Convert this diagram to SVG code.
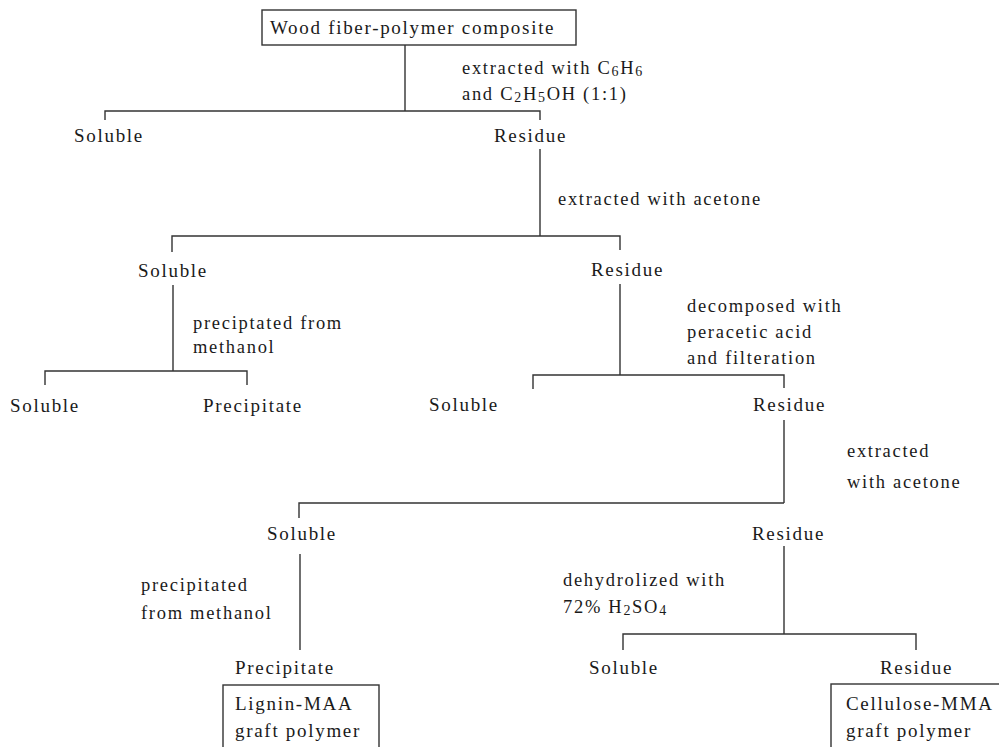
<svg xmlns="http://www.w3.org/2000/svg" width="999" height="747" viewBox="0 0 999 747">
<style>
text{font-family:"Liberation Serif","Times New Roman",serif;font-size:19px;fill:#1a1a1a;letter-spacing:1.7px}
.lbl{font-size:18.5px}
.sub{font-size:14px}
.box{fill:none;stroke:#333;stroke-width:1.4}
.con{fill:none;stroke:#333;stroke-width:1.4}
</style>
<rect width="999" height="747" fill="#fff"/>
<g id="connectors" class="con">
<path d="M405 45V111M105 120V111H540V120"/>
<path d="M540 149V236M172 252V236H620V250"/>
<path d="M173 285V371M45 385V371H247V385"/>
<path d="M620 284V375M533 389V375H784V388"/>
<path d="M784 420V503M299 518V503H784"/>
<path d="M300 554V650"/>
<path d="M784 546V634M623 650V634H916V650"/>
</g>
<g id="n-composite"><rect class="box" x="262" y="10" width="314" height="35"/><text x="270" y="34">Wood fiber-polymer composite</text></g>
<g id="e1"><text class="lbl" x="462" y="74">extracted with C<tspan class="sub" dy="2">6</tspan><tspan dy="-2">H</tspan><tspan class="sub" dy="2">6</tspan></text><text class="lbl" x="462" y="100">and C<tspan class="sub" dy="2">2</tspan><tspan dy="-2">H</tspan><tspan class="sub" dy="2">5</tspan><tspan dy="-2">OH (1:1)</tspan></text></g>
<g id="n-soluble1"><text x="74" y="142">Soluble</text></g>
<g id="n-residue1"><text x="494" y="142">Residue</text></g>
<g id="e2"><text class="lbl" x="558" y="205">extracted with acetone</text></g>
<g id="n-soluble2"><text x="138" y="277">Soluble</text></g>
<g id="n-residue2"><text x="591" y="276">Residue</text></g>
<g id="e3"><text class="lbl" x="193" y="329">preciptated from</text><text class="lbl" x="193" y="353">methanol</text></g>
<g id="e4"><text class="lbl" x="687" y="312">decomposed with</text><text class="lbl" x="687" y="338">peracetic acid</text><text class="lbl" x="687" y="364">and filteration</text></g>
<g id="n-soluble3a"><text x="10" y="412">Soluble</text></g>
<g id="n-precipitate1"><text x="203" y="412">Precipitate</text></g>
<g id="n-soluble3b"><text x="429" y="411">Soluble</text></g>
<g id="n-residue3"><text x="753" y="411">Residue</text></g>
<g id="e5"><text class="lbl" x="847" y="457">extracted</text><text class="lbl" x="847" y="488">with acetone</text></g>
<g id="n-soluble4"><text x="267" y="540">Soluble</text></g>
<g id="n-residue4"><text x="752" y="540">Residue</text></g>
<g id="e6"><text class="lbl" x="141" y="591">precipitated</text><text class="lbl" x="141" y="619">from methanol</text></g>
<g id="e7"><text class="lbl" x="563" y="586">dehydrolized with</text><text class="lbl" x="563" y="613">72% H<tspan class="sub" dy="2">2</tspan><tspan dy="-2">SO</tspan><tspan class="sub" dy="2">4</tspan></text></g>
<g id="n-precipitate2"><text x="235" y="674">Precipitate</text></g>
<g id="n-lignin"><rect class="box" x="223" y="685" width="156" height="70"/><text x="235" y="710">Lignin-MAA</text><text x="235" y="737">graft polymer</text></g>
<g id="n-soluble5"><text x="589" y="674">Soluble</text></g>
<g id="n-residue5"><text x="880" y="674">Residue</text></g>
<g id="n-cellulose"><rect class="box" x="831" y="684" width="175" height="70"/><text x="846" y="710">Cellulose-MMA</text><text x="846" y="737">graft polymer</text></g>
</svg>
